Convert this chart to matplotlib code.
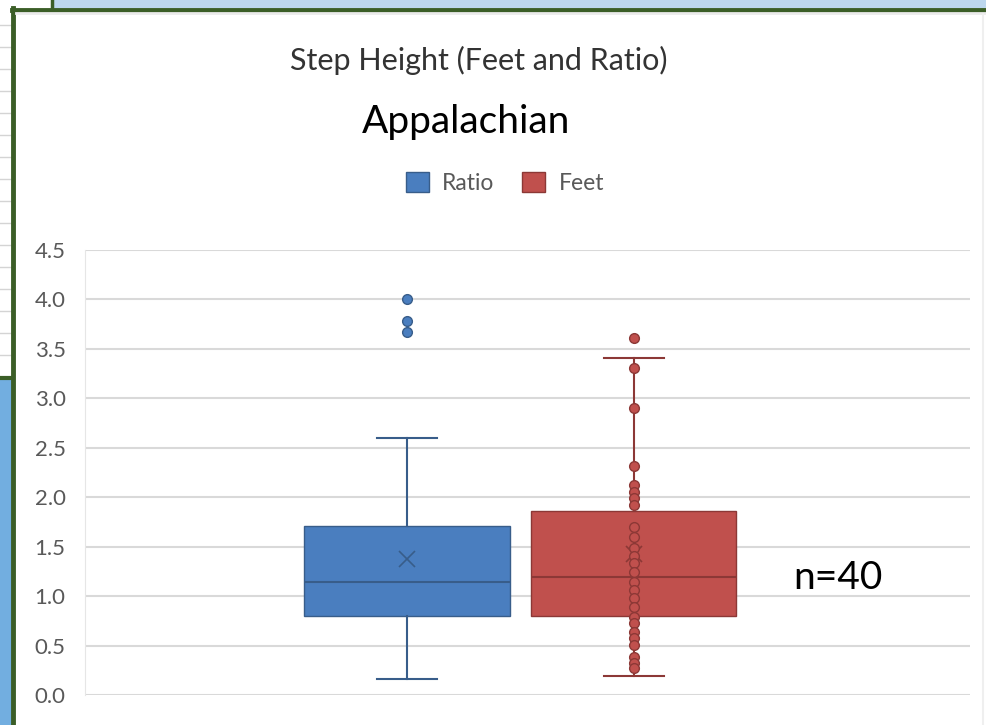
import matplotlib.pyplot as plt
from matplotlib.patches import Rectangle, Patch

# box plot summary values
series = ["Ratio", "Feet"]
q1 = [0.80, 0.80]
medians = [1.14, 1.19]
q3 = [1.71, 1.86]
whisker_low = [0.16, 0.19]
whisker_high = [2.60, 3.41]
means = [1.38, 1.43]
outliers = [[4.00, 3.78, 3.67], [3.61]]
# inner points shown for the Feet series
feet_inner = [3.31, 2.90, 2.32, 2.12, 2.05, 1.99, 1.92,
              1.70, 1.60, 1.49, 1.41, 1.33, 1.24, 1.14, 1.06, 0.98, 0.89, 0.79,
              0.73, 0.64, 0.58, 0.51, 0.38, 0.32, 0.27]
y_ticks = [0.0, 0.5, 1.0, 1.5, 2.0, 2.5, 3.0, 3.5, 4.0, 4.5]

fills = ["#4A7EBF", "#C0504D"]
edges = ["#385D8A", "#8C3836"]
W, H = 986, 725

plt.rcParams['font.family'] = ['Lato', 'DejaVu Sans']

fig = plt.figure(figsize=(W / 100, H / 100), dpi=100)

# background: bits of the spreadsheet around the chart
bg = fig.add_axes([0, 0, 1, 1], zorder=0)
bg.set_xlim(0, W)
bg.set_ylim(H, 0)
bg.axis("off")
bg.add_patch(Rectangle((0, 0), W, H, color="white"))
bg.add_patch(Rectangle((52, 0), W - 52, 8, color="#BDD7EE"))
for gy in range(25, 372, 22):
    bg.plot([0, 12], [gy, gy], color="#D4D4D4", lw=1)
bg.add_patch(Rectangle((0, 379), 12, H - 379, color="#72AEE0"))
bg.plot([0, 12], [378, 378], color="#3B5E27", lw=3)
bg.plot([52, 52], [0, 9], color="#3B5E27", lw=2.5)
bg.plot([12, W], [9.5, 9.5], color="#3B5E27", lw=3.5)
bg.plot([13, 13], [8, H], color="#3B5E27", lw=3.5)
bg.plot([16, W], [13, 13], color="#EBEBEB", lw=2)
bg.plot([983, 983], [14, H], color="#EFEFEF", lw=1.5)

# plot area
left, right = 85 / W, 970 / W
bottom, top = 1 - 695 / H, 1 - 250 / H
ax = fig.add_axes([left, bottom, right - left, top - bottom], zorder=1)
ax.patch.set_alpha(0)

positions = [0.864, 1.12]
for i in range(len(series)):
    stats = [{
        "med": medians[i], "q1": q1[i], "q3": q3[i],
        "whislo": whisker_low[i], "whishi": whisker_high[i],
        "mean": means[i], "fliers": outliers[i],
    }]
    ax.bxp(stats, positions=[positions[i]], widths=0.232, capwidths=0.068,
           patch_artist=True, showmeans=True, showfliers=True,
           manage_ticks=False,
           boxprops=dict(facecolor=fills[i], edgecolor=edges[i], lw=1),
           medianprops=dict(color=edges[i], lw=1.5),
           whiskerprops=dict(color=edges[i], lw=1.5),
           capprops=dict(color=edges[i], lw=1.5),
           meanprops=dict(marker="x", markeredgecolor=edges[i], markersize=11,
                          markeredgewidth=1.2),
           flierprops=dict(marker="o", markerfacecolor=fills[i],
                           markeredgecolor=edges[i], markersize=7))

ax.plot([positions[1]] * len(feet_inner), feet_inner, "o", color=fills[1],
        mec=edges[1], ms=7, zorder=4)

ax.set_xlim(0.5, 1.5)
ax.set_ylim(0, 4.5)
ax.set_yticks(y_ticks)
ax.set_yticklabels([f"{t:.1f}" for t in y_ticks])
ax.set_xticks([])
ax.grid(axis="y", color="#D9D9D9", lw=1.5)
ax.set_axisbelow(True)
for s in ["top", "right", "bottom"]:
    ax.spines[s].set_visible(False)
ax.spines["left"].set_color("#E6E6E6")
ax.tick_params(axis="y", length=0, pad=14, labelsize=16, labelcolor="#595959")

# titles, legend, annotation
fig.text(479 / W, 1 - 60 / H, "Step Height (Feet and Ratio)", ha="center",
         va="center", fontsize=22, color="#333333")
fig.text(466 / W, 1 - 122 / H, "Appalachian", ha="center", va="center",
         fontsize=28, color="black")
handles = [Patch(facecolor=fills[i], edgecolor=edges[i], label=series[i])
           for i in range(len(series))]
fig.legend(handles=handles, loc="center", bbox_to_anchor=(505 / W, 1 - 183 / H),
           ncol=2, frameon=False, fontsize=16.5, labelcolor="#595959",
           handlelength=1.0, handleheight=1.0, handletextpad=0.6,
           columnspacing=1.2)
fig.text(838 / W, 1 - 578 / H, "n=40", ha="center", va="center",
         fontsize=28, color="black")

fig.savefig("out.png", dpi=100)
